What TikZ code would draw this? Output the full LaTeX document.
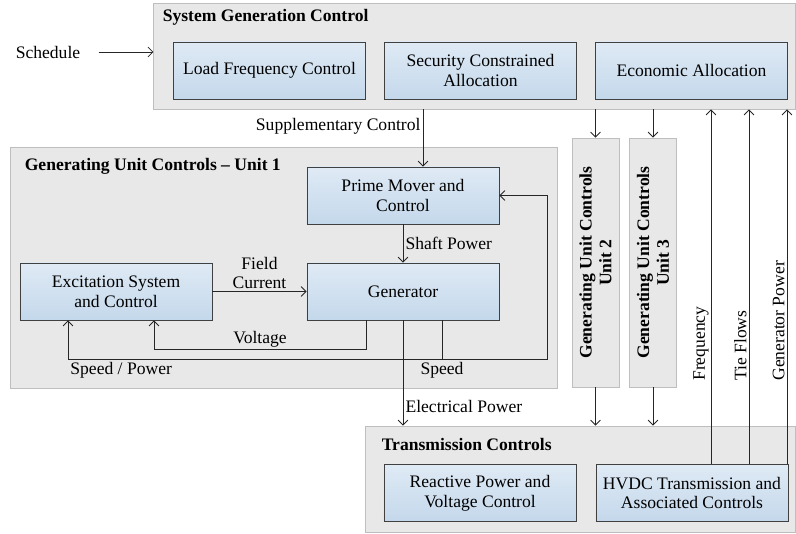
\documentclass[tikz,border=0pt]{standalone}
\usepackage{fontspec}
\setmainfont{Liberation Serif}
\usetikzlibrary{arrows.meta,positioning,calc}

\definecolor{groupfill}{HTML}{E8E8E8}
\definecolor{groupline}{HTML}{BEBEBE}
\definecolor{blocktop}{HTML}{DFEAF5}
\definecolor{blockbot}{HTML}{C4D8EB}
\definecolor{blockline}{HTML}{404040}

\begin{document}
\begin{tikzpicture}[
x=0.025cm, y=-0.025cm,
font=\fontsize{12.5}{14}\selectfont,
group/.style={draw=groupline, line width=0.6pt, fill=groupfill, inner sep=0pt},
block/.style={draw=blockline, line width=0.6pt, top color=blocktop, bottom color=blockbot, align=center, minimum width=4.8cm, minimum height=1.425cm, inner sep=2pt},
title/.style={font=\fontsize{12.5}{14}\selectfont\bfseries, anchor=west, inner sep=0pt},
arrow/.style={-{Straight Barb[length=3.5pt,width=7pt]}, draw=black!85, line width=0.6pt},
link/.style={draw=black!85, line width=0.6pt},
lbl/.style={inner sep=1.5pt}
]
\useasboundingbox (0,0) rectangle (796,533);

\node[group, minimum width=16.025cm, minimum height=2.65cm] (sgc) at (474.5,56) {};
\node[title] at ($(sgc.north west)+(9,15)$) {System Generation Control};
\node[block] (lfc) at (269.5,70.5) {Load Frequency Control};
\node[block] (sca) at (480.5,70.5) {Security Constrained\\Allocation};
\node[block] (eca) at (691.5,70.5) {Economic Allocation};

\node[group, minimum width=13.675cm, minimum height=6.025cm] (guc) at (283.5,267.5) {};
\node[title] at ($(guc.north west)+(15,20)$) {Generating Unit Controls -- Unit 1};
\node[block] (pm) at (403,195.5) {Prime Mover and\\Control};
\node[block] (gen) at (403,291.5) {Generator};
\node[block] (exc) at (116,291.5) {Excitation System\\and Control};

\node[group, minimum width=1.175cm, minimum height=6.225cm] (u2) at (595.5,262.5) {};
\node[title, anchor=center, rotate=90, align=center] at (u2) {Generating Unit Controls\\Unit 2};
\node[group, minimum width=1.175cm, minimum height=6.225cm] (u3) at (653,262.5) {};
\node[title, anchor=center, rotate=90, align=center] at (u3) {Generating Unit Controls\\Unit 3};

\node[group, minimum width=10.75cm, minimum height=2.65cm] (tc) at (580,479) {};
\node[title] at ($(tc.north west)+(17,19)$) {Transmission Controls};
\node[block] (rpv) at (480,493) {Reactive Power and\\Voltage Control};
\node[block] (hvdc) at (692,493) {HVDC Transmission and\\Associated Controls};

\node[lbl] (sched) at (48,52) {Schedule};
\draw[arrow] ([xshift=0.4cm]sched.east) -- (sched.east -| sgc.west);

\draw[arrow] ($(pm.north |- sgc.south)+(20,0)$) -- node[lbl, pos=0.3, left] {Supplementary Control} ($(pm.north)+(20,0)$);
\draw[arrow] (pm) -- node[lbl, right] {Shaft Power} (gen);
\draw[arrow] (exc) -- node[lbl, above, align=center] {Field\\Current} (gen);
\draw[arrow] ($(gen.south)+(-37,0)$) -- ++(0,29) -- node[lbl, above] {Voltage} ++(-212,0) -- ($(exc.south)+(38,0)$);

\coordinate (spd) at ($(gen.south)+(39,39)$);
\draw[link] ($(gen.south)+(39,0)$) -- (spd);
\draw[arrow] (spd) -| ($(exc.south)+(-48,0)$);
\draw[arrow] (spd) -| ($(pm.east)+(48,0)$) -- (pm.east);
\node[lbl, below] at (spd) {Speed};
\node[lbl, anchor=north west] at ($(exc.south)+(-48,39)$) {Speed / Power};

\draw[arrow] (gen.south) -- node[lbl, pos=0.82, right] {Electrical Power} (gen.south |- tc.north);

\foreach \u in {u2,u3} {
  \draw[arrow] (\u.north |- sgc.south) -- (\u.north);
  \draw[arrow] (\u.south) -- (\u.south |- tc.north);
}

\foreach \dx/\txt in {19/Frequency, 57/Tie Flows, 95/Generator Power} {
  \draw[arrow] ($(hvdc.north)+(\dx,0)$) -- ($(hvdc.north |- sgc.south)+(\dx,0)$);
  \node[lbl, rotate=90, anchor=south west] at ($(hvdc.north)+(\dx,-81)$) {\txt};
}
\end{tikzpicture}
\end{document}
